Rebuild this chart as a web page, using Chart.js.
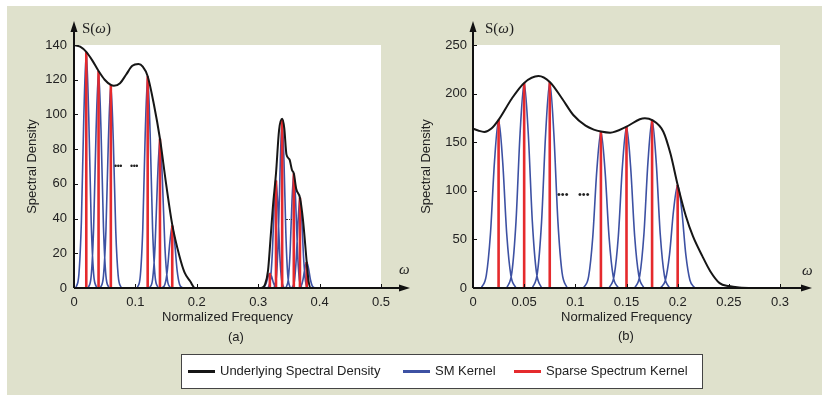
<!DOCTYPE html>
<html>
<head>
<meta charset="utf-8">
<script src="https://cdn.jsdelivr.net/npm/chart.js@4.4.1/dist/chart.umd.min.js"></script>
<style>
  body { margin: 0; background: #fff; font-family: "Liberation Sans", Arial, sans-serif; color: #222; }
  #wrap { position: relative; width: 822px; height: 398px; overflow: hidden; }
  #panel { position: absolute; left: 7px; top: 6px; width: 815px; height: 389px; background: #dfe1cc; }
  canvas { position: absolute; top: 0; }
  .lbl { position: absolute; white-space: nowrap; }
  .sw { font-family: "Liberation Serif", "Times New Roman", serif; font-size: 15px; }
  .dots { position: absolute; font-size: 9px; letter-spacing: -0.5px; color: #222; }
  #legend { position: absolute; left: 181px; top: 354px; width: 520px; height: 33px; background: #fff; border: 1px solid #444; font-size: 13px; }
  #legend .line { position: absolute; top: 15px; width: 27px; height: 3px; }
  #legend .txt { position: absolute; top: 8px; }
</style>
</head>
<body>
<div id="wrap">
  <div id="panel"></div>
  <canvas id="chartA" width="411" height="330" style="left:0"></canvas>
  <canvas id="chartB" width="411" height="330" style="left:411px"></canvas>

  <div class="lbl sw" style="left:82px;top:20px">S(<i>ω</i>)</div>
  <div class="lbl sw" style="left:485px;top:20px">S(<i>ω</i>)</div>
  <div class="lbl sw" style="left:399px;top:261px"><i>ω</i></div>
  <div class="lbl sw" style="left:802px;top:262px"><i>ω</i></div>
  <div class="lbl" style="left:228px;top:329px;font-size:13px">(a)</div>
  <div class="lbl" style="left:618px;top:328px;font-size:13px">(b)</div>

  <div class="dots" style="left:114px;top:161px">•••</div>
  <div class="dots" style="left:130px;top:161px">•••</div>
  <div style="position:absolute;left:286px;top:219px;width:6px;border-top:1px dotted #333"></div>
  <div class="dots" style="left:557px;top:188px;font-size:11px;letter-spacing:0">•••</div>
  <div class="dots" style="left:578px;top:188px;font-size:11px;letter-spacing:0">•••</div>

  <div id="legend">
    <div class="line" style="left:6px;background:#161616"></div>
    <div class="txt" style="left:38px">Underlying Spectral Density</div>
    <div class="line" style="left:221px;background:#3d51a3"></div>
    <div class="txt" style="left:253px">SM Kernel</div>
    <div class="line" style="left:332px;background:#e52a2d"></div>
    <div class="txt" style="left:364px">Sparse Spectrum Kernel</div>
  </div>
</div>

<script>
// ---- panel (a) ----
const freqA = [0, 0.01, 0.02, 0.03, 0.04, 0.05, 0.06, 0.065, 0.075, 0.085,
  0.095, 0.105, 0.112, 0.12, 0.13, 0.14, 0.15, 0.16, 0.172, 0.18,
  0.189, 0.197, 0.305, 0.311, 0.316, 0.32, 0.324, 0.329, 0.334, 0.339,
  0.3425, 0.346, 0.351, 0.355, 0.358, 0.362, 0.368, 0.373, 0.379, 0.382,
  0.386, 0.5];
const densityA = [140, 139, 136, 131, 125, 120, 117, 116.5, 118, 123,
  128, 129, 127.5, 122, 106, 86, 60, 36.5, 18, 9,
  4, 0, 0, 2, 10, 28, 47, 66, 91, 97.5,
  92, 77, 74, 68, 66, 57, 52, 39, 15, 4,
  0, 0];

const sparseFreqA = [0.02, 0.04, 0.06, 0.12, 0.14, 0.16, 0.319, 0.329, 0.339, 0.358, 0.368, 0.379];
const sparseHeightA = [136, 125, 117, 122, 86, 36, 8.5, 62, 97, 66, 52, 15];

// SM kernels, low band (wider) and high band (narrower)
const smOffsetsWide = [-0.017, -0.012, -0.008, -0.004, 0, 0.004, 0.008, 0.012, 0.017];
const smOffsetsNarrow = [-0.013, -0.009, -0.006, -0.003, 0, 0.003, 0.006, 0.009, 0.013];
const smCentersA1 = [0.02, 0.04, 0.06, 0.12, 0.14, 0.16];
const smValuesA1 = [
  [0, 8, 38, 99, 136, 99, 38, 8, 0],
  [0, 7, 35, 91, 125, 91, 35, 7, 0],
  [0, 7, 33, 85, 117, 85, 33, 7, 0],
  [0, 7, 34, 89, 122, 89, 34, 7, 0],
  [0, 5, 24, 62, 86, 62, 24, 5, 0],
  [0, 2, 10, 26, 36, 26, 10, 2, 0]
];
const smCentersA2 = [0.319, 0.329, 0.339, 0.358, 0.368, 0.379];
const smValuesA2 = [
  [0, 0.7, 2.8, 6.4, 8.5, 6.4, 2.8, 0.7, 0],
  [0, 5, 20, 47, 62, 47, 20, 5, 0],
  [0, 8, 32, 73, 97, 73, 32, 8, 0],
  [0, 5, 21, 50, 66, 50, 21, 5, 0],
  [0, 4, 17, 39, 52, 39, 17, 4, 0],
  [0, 1.2, 4.9, 11.3, 15, 11.3, 4.9, 1.2, 0]
];

// ---- panel (b) ----
const freqB = [0, 0.005, 0.011, 0.018, 0.025, 0.038, 0.05, 0.064, 0.075, 0.087,
  0.098, 0.11, 0.118, 0.125, 0.134, 0.15, 0.163, 0.168, 0.175, 0.186,
  0.193, 0.2, 0.208, 0.215, 0.224, 0.232, 0.241, 0.25, 0.26, 0.275, 0.3];
const densityB = [164, 162, 160.5, 164, 173, 195, 211, 218, 212, 195,
  178, 167, 163, 161, 159.8, 166, 173.6, 174.6, 172.8, 160.8,
  138, 106, 74, 53, 33, 17, 5, 2, 0.6, 0.1, 0];

const sparseFreqB = [0.025, 0.05, 0.075, 0.125, 0.15, 0.175, 0.2];
const sparseHeightB = [173, 211, 212, 161, 166, 173, 106];

const smCentersB = [0.025, 0.05, 0.075, 0.125, 0.15, 0.175, 0.2];
const smValuesB = [
  [0, 13, 55, 130, 173, 130, 55, 13, 0],
  [0, 16, 68, 159, 211, 159, 68, 16, 0],
  [0, 16, 68, 159, 212, 159, 68, 16, 0],
  [0, 12, 52, 121, 161, 121, 52, 12, 0],
  [0, 13, 53, 125, 166, 125, 53, 13, 0],
  [0, 13, 55, 130, 173, 130, 55, 13, 0],
  [0, 8, 34, 80, 106, 80, 34, 8, 0]
];

const BLACK = '#161616', BLUE = '#3d51a3', RED = '#e52a2d';
Chart.defaults.font.family = '"Liberation Sans", Arial, sans-serif';
Chart.defaults.color = '#222';

function curvePoints(xs, ys) {
  return xs.map((x, i) => ({ x: x, y: ys[i] }));
}
function kernelPoints(centers, values, offsets, out) {
  centers.forEach((c, i) => {
    offsets.forEach((o, j) => out.push({ x: c + o, y: values[i][j] }));
    out.push({ x: c, y: null });
  });
  return out;
}
function stickPoints(xs, hs) {
  const pts = [];
  xs.forEach((x, i) => {
    pts.push({ x: x, y: 0 }, { x: x, y: hs[i] }, { x: x, y: null });
  });
  return pts;
}

// white plot area, arrowed axes and inward tick marks
const framePlugin = {
  id: 'frame',
  beforeDraw(chart) {
    const a = chart.chartArea, ctx = chart.ctx;
    ctx.save();
    ctx.fillStyle = '#fff';
    ctx.fillRect(a.left, a.top, a.right - a.left, a.bottom - a.top);
    ctx.restore();
  },
  afterDatasetsDraw(chart, args, opts) {
    const a = chart.chartArea, ctx = chart.ctx;
    const xs = chart.scales.x, ys = chart.scales.y;
    const tipX = a.right + opts.extendX, tipY = a.top - 24;
    ctx.save();
    ctx.strokeStyle = '#111';
    ctx.fillStyle = '#111';
    ctx.lineWidth = 2;
    ctx.beginPath();
    ctx.moveTo(a.left, a.bottom);
    ctx.lineTo(tipX - 8, a.bottom);
    ctx.moveTo(a.left, a.bottom);
    ctx.lineTo(a.left, tipY + 8);
    ctx.stroke();
    ctx.beginPath();
    ctx.moveTo(tipX, a.bottom);
    ctx.lineTo(tipX - 11, a.bottom - 3.5);
    ctx.lineTo(tipX - 11, a.bottom + 3.5);
    ctx.closePath();
    ctx.fill();
    ctx.beginPath();
    ctx.moveTo(a.left, tipY);
    ctx.lineTo(a.left - 3.5, tipY + 11);
    ctx.lineTo(a.left + 3.5, tipY + 11);
    ctx.closePath();
    ctx.fill();
    ctx.lineWidth = 1;
    ctx.beginPath();
    xs.ticks.forEach(t => {
      if (t.value === 0) return;
      const px = Math.round(xs.getPixelForValue(t.value)) + 0.5;
      ctx.moveTo(px, a.bottom);
      ctx.lineTo(px, a.bottom - 4);
    });
    ys.ticks.forEach(t => {
      if (t.value === 0) return;
      const py = Math.round(ys.getPixelForValue(t.value)) + 0.5;
      ctx.moveTo(a.left, py);
      ctx.lineTo(a.left + 4, py);
    });
    ctx.stroke();
    ctx.restore();
  }
};

function fmt(v) { return String(+v.toFixed(3)); }

function makeChart(id, opt) {
  return new Chart(document.getElementById(id), {
    type: 'line',
    data: {
      datasets: [
        { label: 'Underlying Spectral Density', data: opt.curve, borderColor: BLACK, borderWidth: 2,
          pointRadius: 0, cubicInterpolationMode: 'monotone' },
        { label: 'Sparse Spectrum Kernel', data: opt.sticks, borderColor: RED, borderWidth: 2.6,
          pointRadius: 0, tension: 0 },
        { label: 'SM Kernel', data: opt.kernels, borderColor: BLUE, borderWidth: 1.6,
          pointRadius: 0, cubicInterpolationMode: 'monotone' }
      ]
    },
    options: {
      responsive: false,
      animation: false,
      devicePixelRatio: 1,
      layout: { padding: { top: 45, right: opt.padRight, left: 0, bottom: 0 } },
      plugins: {
        legend: { display: false },
        tooltip: { enabled: false },
        frame: { extendX: opt.extendX }
      },
      scales: {
        x: {
          type: 'linear', min: 0, max: opt.xMax,
          grid: { display: false, drawTicks: false },
          border: { display: false },
          ticks: { stepSize: opt.xStep, padding: 7, font: { size: 13 }, maxRotation: 0, callback: fmt },
          title: { display: true, text: 'Normalized Frequency', font: { size: 13 }, padding: { top: 0, bottom: 5 } },
          afterFit(s) { s.height = 42; }
        },
        y: {
          min: 0, max: opt.yMax,
          grid: { display: false, drawTicks: false },
          border: { display: false },
          ticks: { stepSize: opt.yStep, padding: opt.yPad, font: { size: 13 } },
          title: { display: true, text: 'Spectral Density', font: { size: 13 }, padding: { top: opt.titlePad, bottom: 0 } },
          afterFit(s) { s.width = opt.yWidth; }
        }
      }
    },
    plugins: [framePlugin]
  });
}

makeChart('chartA', {
  curve: curvePoints(freqA, densityA),
  sticks: stickPoints(sparseFreqA, sparseHeightA),
  kernels: kernelPoints(smCentersA2, smValuesA2, smOffsetsNarrow,
    kernelPoints(smCentersA1, smValuesA1, smOffsetsWide, [])),
  xMax: 0.5, xStep: 0.1, yMax: 140, yStep: 20,
  yWidth: 74, yPad: 7, titlePad: 25, padRight: 30, extendX: 29
});

makeChart('chartB', {
  curve: curvePoints(freqB, densityB),
  sticks: stickPoints(sparseFreqB, sparseHeightB),
  kernels: kernelPoints(smCentersB, smValuesB, smOffsetsWide, []),
  xMax: 0.3, xStep: 0.05, yMax: 250, yStep: 50,
  yWidth: 62, yPad: 6, titlePad: 8, padRight: 42, extendX: 32
});
</script>
</body>
</html>
